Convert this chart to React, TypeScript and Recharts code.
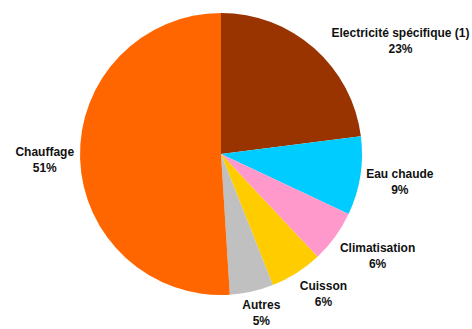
import { PieChart, Pie, Cell } from "recharts";

const categories = [
  "Electricité spécifique (1)",
  "Eau chaude",
  "Climatisation",
  "Cuisson",
  "Autres",
  "Chauffage",
];
const shares = [23, 9, 6, 6, 5, 51];

const COLORS = ["#993300", "#00ccff", "#ff99cc", "#ffcc00", "#c0c0c0", "#ff6600"];

const data = categories.map((name, i) => ({ name, value: shares[i] }));

const FONT = "bold 12px 'Liberation Sans', Arial, sans-serif";
const RADIAN = Math.PI / 180;
const MIN_LABEL_Y = 41; // keep labels inside the plot area at the top

let ctx: CanvasRenderingContext2D | null = null;
function textWidth(s: string) {
  if (!ctx) ctx = document.createElement("canvas").getContext("2d");
  if (!ctx) return s.length * 6.5;
  ctx.font = FONT;
  return ctx.measureText(s).width;
}

const clamp = (v: number) => Math.max(-1, Math.min(1, v));

function renderLabel(props: any) {
  const { cx, cy, midAngle, outerRadius, name, value } = props;
  const c = Math.cos(-midAngle * RADIAN);
  const s = Math.sin(-midAngle * RADIAN);
  const px = cx + (outerRadius + 6) * c;
  const py = cy + (outerRadius + 6) * s;
  const pct = `${value}%`;
  const w = Math.max(textWidth(name), textWidth(pct));
  const h = 32;
  let lx = px + (w / 2) * clamp(c * 2);
  let ly = py + (h / 2) * clamp(s * 2);
  if (ly < MIN_LABEL_Y) {
    // pushed down, so slide outward to stay clear of the pie
    lx += (MIN_LABEL_Y - ly) * Math.sign(c);
    ly = MIN_LABEL_Y;
  }
  return (
    <text
      x={lx}
      y={ly}
      textAnchor="middle"
      fill="#111"
      style={{ font: FONT }}
    >
      <tspan x={lx} dy={-4}>{name}</tspan>
      <tspan x={lx} dy={16}>{pct}</tspan>
    </text>
  );
}

export default function App() {
  return (
    <div style={{ position: "fixed", left: 0, top: 0, width: 472, height: 329, background: "#fff" }}>
      <PieChart width={472} height={329} margin={{ top: 0, right: 0, bottom: 0, left: 0 }}>
        <Pie
          data={data}
          dataKey="value"
          nameKey="name"
          cx={221}
          cy={154}
          outerRadius={141}
          startAngle={90}
          endAngle={-270}
          stroke="none"
          label={renderLabel}
          labelLine={false}
          isAnimationActive={false}
        >
          {data.map((_, index) => (
            <Cell key={`cell-${index}`} fill={COLORS[index % COLORS.length]} />
          ))}
        </Pie>
      </PieChart>
    </div>
  );
}
